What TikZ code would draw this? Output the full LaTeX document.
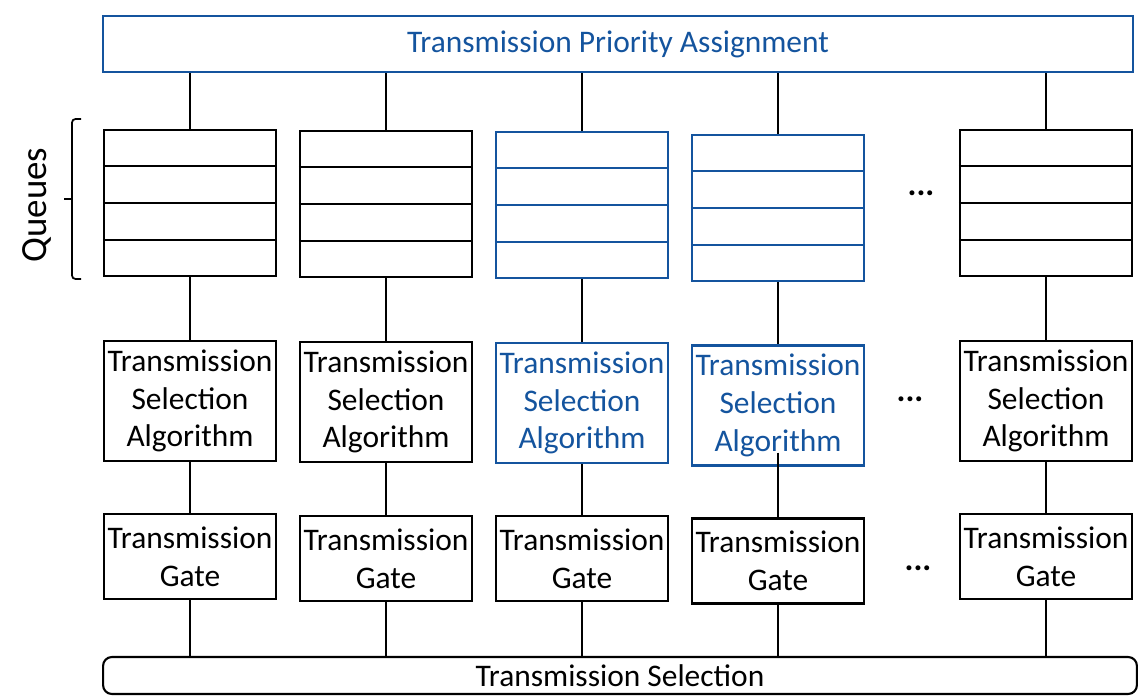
\documentclass[tikz,border=0pt]{standalone}
\usepackage{fontspec}
\setmainfont{Carlito}
\usetikzlibrary{calc,positioning}
\definecolor{tsnblue}{RGB}{20,84,158}

\begin{document}
\begin{tikzpicture}[x=0.02cm,y=-0.02cm,
    box/.style={draw,line width=1.2pt,inner sep=0pt,minimum width=3.44cm,align=center,
      font=\fontsize{17.9}{21.5}\selectfont},
    queue/.style={box,minimum height=2.92cm},
    tsa/.style={box,minimum height=2.4cm},
    gate/.style={box,minimum height=1.7cm},
    hl/.style={draw=tsnblue,text=tsnblue},
    link/.style={line width=1pt}]
        \useasboundingbox (0,0) rectangle (1140,699);
        \node[box,hl,minimum width=20.6cm,minimum height=1.12cm] (tpa) at (618,44) {Transmission Priority Assignment};
        \node[box,rounded corners=5pt,minimum width=20.68cm,minimum height=0.74cm] (ts) at (620,675.5) {Transmission Selection};
        % queues
        \node[queue] (q1) at (190,203) {};
        \node[queue] (q2) at (386,204) {};
        \node[queue,hl] (q3) at (582,205) {};
        \node[queue,hl] (q4) at (778,208) {};
        \node[queue] (q5) at (1046,203) {};
        \foreach \q/\c in {q1/black,q2/black,q3/tsnblue,q4/tsnblue,q5/black}
          \foreach \k in {1,...,3}
            \draw [\c,line width=1.2pt] ($(\q.north west)!\k/4!(\q.south west)$) -- ($(\q.north east)!\k/4!(\q.south east)$);
        % selection algorithms
        \node[tsa] (tsa1) at (190,401) {Transmission\\Selection\\Algorithm};
        \node[tsa] (tsa2) at (386,402) {Transmission\\Selection\\Algorithm};
        \node[tsa,hl] (tsa3) at (582,403) {Transmission\\Selection\\Algorithm};
        \node[tsa,hl] (tsa4) at (778,405.5) {Transmission\\Selection\\Algorithm};
        \node[tsa] (tsa5) at (1046,401) {Transmission\\Selection\\Algorithm};
        % gates
        \node[gate] (g1) at (190,556.5) {Transmission\\Gate};
        \node[gate] (g2) at (386,558.5) {Transmission\\Gate};
        \node[gate] (g3) at (582,558.5) {Transmission\\Gate};
        \node[gate] (g4) at (778,561) {Transmission\\Gate};
        \node[gate] (g5) at (1046,556.5) {Transmission\\Gate};
        % dots
        \node[font=\fontsize{19}{21.5}\selectfont\bfseries] (d1) at (921,193) {...};
        \node[font=\fontsize{19}{21.5}\selectfont\bfseries] (d2) at (910,399) {...};
        \node[font=\fontsize{19}{21.5}\selectfont\bfseries] (d3) at (918,568) {...};
        % brace
        \draw [line width=1pt,rounded corners=2pt] (81,119) -- (72,119) -- (72,279) -- (81,279);
        \draw [line width=1pt] (72,199) -- (64,199);
        \node[rotate=90,font=\fontsize{21}{25}\selectfont] (ql) at (37,205) {Queues};
        % links
        \foreach \i in {1,2,3,5} {
          \draw [link] (tpa.south -| q\i.north) -- (q\i.north);
          \draw [link] (q\i.south) -- (tsa\i.north);
          \draw [link] (tsa\i.south) -- (g\i.north);
          \draw [link] (g\i.south) -- (ts.north -| g\i.south);
        }
        \draw [link] (tpa.south -| q4.north) -- (q4.north);
        \draw [link] (q4.south) -- (tsa4.north);
        \draw [link] ([yshift=0.28cm]tsa4.south) -- (g4.north);
        \draw [link] (g4.south) -- (ts.north -| g4.south);
\end{tikzpicture}
\end{document}
